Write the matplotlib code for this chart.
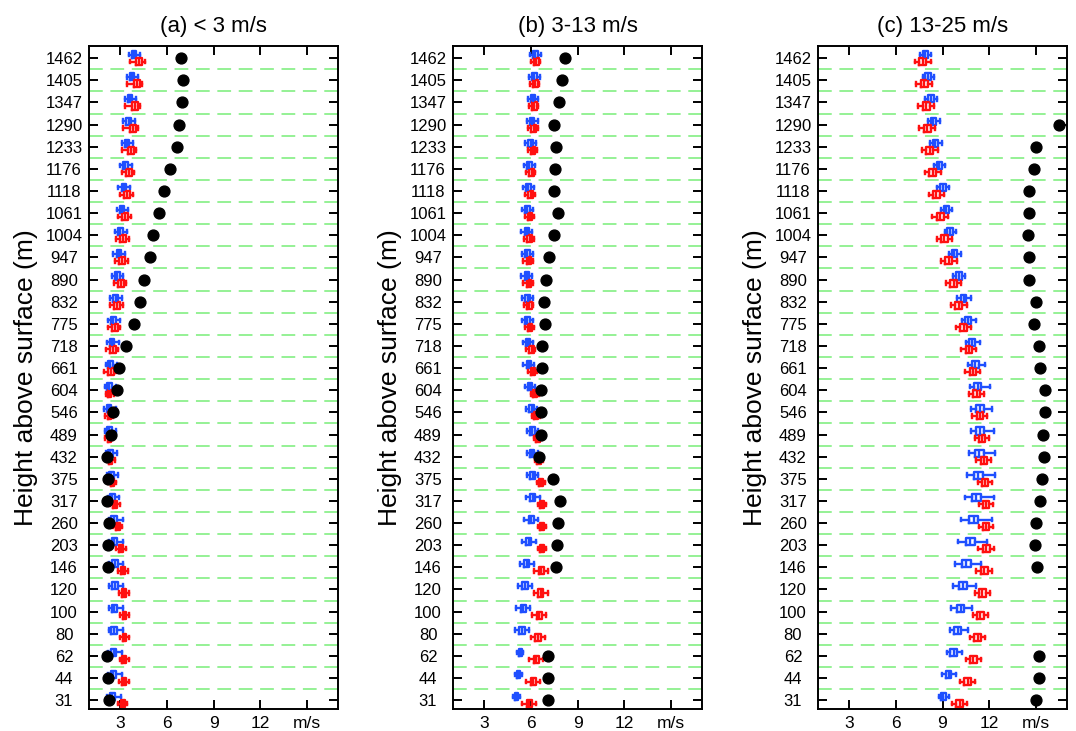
import numpy as np
import matplotlib
matplotlib.use('Agg')
import matplotlib.pyplot as plt

plt.rcParams['font.family'] = ['Liberation Sans', 'DejaVu Sans']

nan = np.nan

levels = [31, 44, 62, 80, 100, 120, 146, 203, 260, 317, 375, 432, 489, 546, 604,
          661, 718, 775, 832, 890, 947, 1004, 1061, 1118, 1176, 1233, 1290, 1347, 1405, 1462]

titles = ['(a) < 3 m/s', '(b) 3-13 m/s', '(c) 13-25 m/s']
xticks = [3, 6, 9, 12, 15]
xticklabels = ['3', '6', '9', '12', 'm/s']

# panel (a)
a_dot = [2.29, 2.23, 2.14, nan, nan, nan, 2.19, 2.2, 2.31, 2.14, 2.19, 2.14, 2.42, 2.57, 2.77,
         2.94, 3.37, 3.86, 4.3, 4.56, 4.9, 5.1, 5.5, 5.85, 6.22, 6.64, 6.77, 6.97, 7.07, 6.9]
a_blue_med = [2.5, 2.57, 2.59, 2.61, 2.63, 2.66, 2.66, 2.63, 2.61, 2.5, 2.44, 2.38, 2.31, 2.29, 2.31,
              2.38, 2.47, 2.57, 2.72, 2.81, 2.92, 3.01, 3.13, 3.24, 3.34, 3.45, 3.54, 3.64, 3.77, 3.9]
a_blue_iqr = [0.35]*9 + [0.3]*21
a_blue_lo = [0.35]*9 + [0.3]*8 + [0.35]*13
a_blue_hi = [0.55]*9 + [0.45]*8 + [0.4]*13
a_red_med = [3.17, 3.24, 3.26, 3.28, 3.28, 3.24, 3.19, 3.06, 2.85, 2.68, 2.49, 2.4, 2.31, 2.31, 2.34,
             2.4, 2.53, 2.66, 2.81, 3.04, 3.13, 3.21, 3.34, 3.47, 3.56, 3.69, 3.81, 3.94, 4.07, 4.22]
a_red_iqr = [0.25]*10 + [0.2]*5 + [0.38]*15
a_red_lo = [0.3]*10 + [0.25]*5 + [0.45]*10 + [0.6]*5
a_red_hi = [0.3]*10 + [0.25]*5 + [0.35]*15

# panel (b)
b_dot = [7.11, 7.13, 7.13, nan, nan, nan, 7.62, 7.67, 7.73, 7.85, 7.43, 6.55, 6.66, 6.66, 6.63,
         6.72, 6.72, 6.94, 6.87, 7.0, 7.17, 7.5, 7.73, 7.47, 7.56, 7.6, 7.52, 7.8, 7.99, 8.2]
b_blue_med = [5.08, 5.21, 5.32, 5.43, 5.52, 5.62, 5.73, 5.86, 6.03, 6.12, 6.12, 6.08, 6.1, 6.05, 5.95,
              5.88, 5.82, 5.77, 5.8, 5.75, 5.77, 5.75, 5.77, 5.84, 5.9, 5.99, 6.08, 6.14, 6.23, 6.29]
b_blue_iqr = [0.2]*3 + [0.35]*7 + [0.3]*20
b_blue_lo = [0.2]*3 + [0.45]*7 + [0.35]*20
b_blue_hi = [0.2]*3 + [0.45]*7 + [0.35]*20
b_red_med = [5.9, 6.16, 6.35, 6.46, 6.55, 6.63, 6.68, 6.72, 6.74, 6.72, 6.66, 6.55, 6.44, 6.33, 6.25,
             6.14, 6.05, 5.95, 5.9, 5.88, 5.88, 5.93, 5.95, 5.99, 6.05, 6.14, 6.18, 6.23, 6.29, 6.35]
b_red_iqr = [0.35]*7 + [0.25]*8 + [0.3]*15
b_red_lo = [0.45]*7 + [0.25]*8 + [0.35]*15
b_red_hi = [0.45]*7 + [0.25]*8 + [0.25]*15

# panel (c)
c_dot = [15.0, 15.19, 15.21, nan, nan, nan, 15.06, 14.96, 15.04, 15.25, 15.41, 15.52, 15.43, 15.56, 15.56,
         15.26, 15.21, 14.89, 15.02, 14.57, 14.57, 14.47, 14.55, 14.57, 14.87, 15.04, 16.5, nan, nan, nan]
c_blue_med = [9.05, 9.39, 9.71, 9.97, 10.16, 10.31, 10.53, 10.79, 11.0, 11.18, 11.3, 11.37, 11.41, 11.41, 11.28,
              11.11, 10.89, 10.63, 10.35, 10.05, 9.77, 9.48, 9.24, 9.02, 8.79, 8.55, 8.42, 8.25, 8.08, 7.9]
c_blue_iqr = [0.3, 0.35, 0.4, 0.45, 0.5, 0.55, 0.6, 0.6, 0.62, 0.62, 0.6, 0.58, 0.55, 0.5, 0.45,
              0.42, 0.4, 0.38, 0.36, 0.35, 0.35, 0.35, 0.35, 0.35, 0.35, 0.35, 0.35, 0.35, 0.35, 0.35]
c_blue_lo = [0.3, 0.4, 0.45, 0.5, 0.6, 0.65, 0.75, 0.8, 0.8, 0.75, 0.7, 0.65, 0.6, 0.55, 0.5,
             0.45, 0.4, 0.4, 0.4, 0.35, 0.35, 0.35, 0.35, 0.35, 0.35, 0.35, 0.35, 0.35, 0.35, 0.35]
c_blue_hi = [0.35, 0.45, 0.55, 0.65, 0.75, 0.85, 0.95, 1.1, 1.15, 1.1, 1.05, 1.0, 0.9, 0.8, 0.75,
             0.65, 0.55, 0.5, 0.45, 0.4, 0.4, 0.4, 0.4, 0.4, 0.4, 0.4, 0.4, 0.4, 0.35, 0.35]
c_red_med = [10.1, 10.61, 10.99, 11.26, 11.43, 11.56, 11.67, 11.8, 11.82, 11.82, 11.75, 11.67, 11.56, 11.39, 11.19,
             10.96, 10.68, 10.35, 10.05, 9.71, 9.41, 9.12, 8.85, 8.61, 8.38, 8.18, 8.01, 7.95, 7.82, 7.73]
c_red_iqr = [0.45]*8 + [0.4]*10 + [0.45]*12
c_red_lo = [0.5]*8 + [0.5]*10 + [0.5]*12
c_red_hi = [0.5]*8 + [0.45]*10 + [0.5]*12

panels = [
    (a_dot, a_blue_med, a_blue_iqr, a_blue_lo, a_blue_hi, a_red_med, a_red_iqr, a_red_lo, a_red_hi),
    (b_dot, b_blue_med, b_blue_iqr, b_blue_lo, b_blue_hi, b_red_med, b_red_iqr, b_red_lo, b_red_hi),
    (c_dot, c_blue_med, c_blue_iqr, c_blue_lo, c_blue_hi, c_red_med, c_red_iqr, c_red_lo, c_red_hi),
]

blue = '#1f4fff'
red = '#ff1010'
green = '#78ee78'


def boxStats(med, iqr, lo, hi):
    stats = []
    for m, q, l, h in zip(med, iqr, lo, hi):
        stats.append({'med': m, 'q1': m - q/2, 'q3': m + q/2,
                      'whislo': m - l, 'whishi': m + h, 'fliers': []})
    return stats


def drawBoxes(ax, stats, pos, color):
    lp = dict(color=color, linewidth=1.7)
    ax.bxp(stats, positions=pos, orientation='horizontal', widths=0.32, capwidths=0.16,
           showfliers=False, manage_ticks=False,
           boxprops=lp, medianprops=lp, whiskerprops=lp, capprops=lp)


fig = plt.figure(figsize=(10.76, 7.31), dpi=100)
lefts = [89, 453, 818]
ypos = np.arange(1, len(levels) + 1)

for k in range(3):
    dots, bmed, biqr, blo, bhi, rmed, riqr, rlo, rhi = panels[k]
    ax = fig.add_axes([lefts[k]/1076, 22/731, 249/1076, 663/731])

    for y in ypos[:-1]:
        ax.axhline(y + 0.5, color=green, lw=1.1, dashes=(9, 5), zorder=0)

    drawBoxes(ax, boxStats(bmed, biqr, blo, bhi), ypos + 0.16, blue)
    drawBoxes(ax, boxStats(rmed, riqr, rlo, rhi), ypos - 0.16, red)
    ax.plot(dots, ypos, 'o', color='black', markersize=7.8, linestyle='none', zorder=5)

    ax.set_xlim(1, 17)
    ax.set_ylim(0.6, 30.55)
    ax.set_xticks(xticks)
    ax.set_xticklabels(xticklabels, fontsize=12.5)
    ax.set_yticks(ypos)
    ax.set_yticklabels([str(v) for v in levels], fontsize=12)
    for lab in ax.get_yticklabels():
        lab.set_horizontalalignment('center')
    ax.tick_params(axis='both', direction='in', length=6.5, width=1.4,
                   top=True, right=True)
    ax.tick_params(axis='y', pad=18)
    ax.tick_params(axis='x', pad=5)
    for s in ax.spines.values():
        s.set_linewidth(1.4)
    ax.set_title(titles[k], fontsize=16, pad=10)
    ax.set_ylabel('Height above surface (m)', fontsize=19, labelpad=5)

fig.savefig('out.png', dpi=100)
